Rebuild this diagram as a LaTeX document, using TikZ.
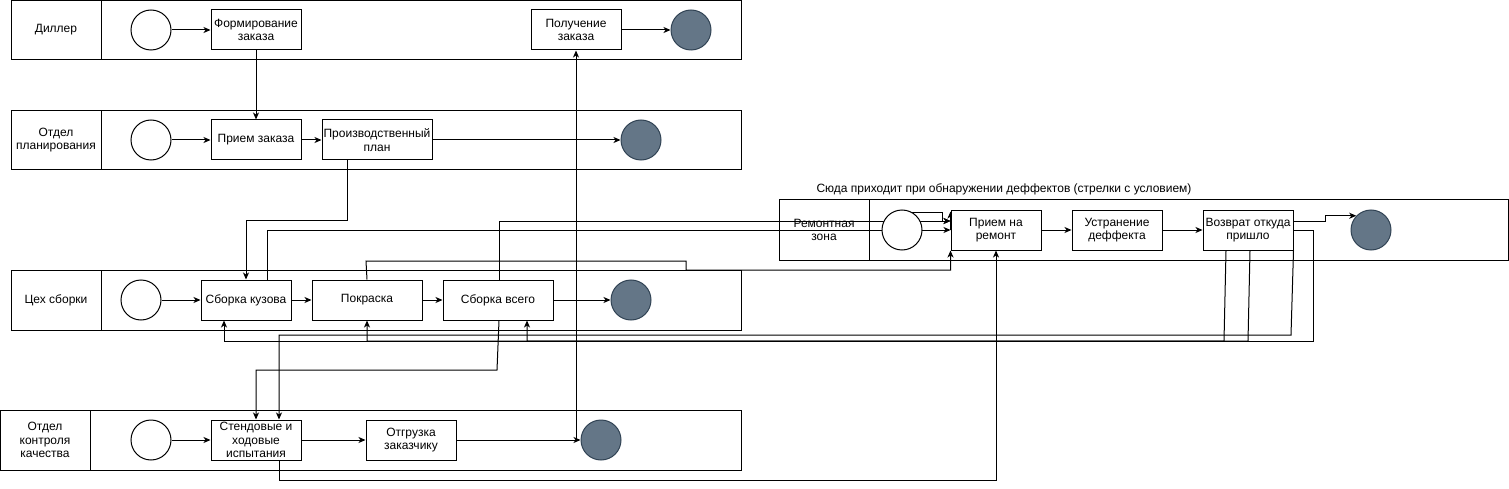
\documentclass[tikz,border=0pt]{standalone}
\usepackage{fontspec}
\setmainfont{Liberation Sans}
\usetikzlibrary{positioning, arrows.meta, backgrounds}

\definecolor{endfill}{HTML}{647687}
\definecolor{endline}{HTML}{314354}

\tikzset{
    txt/.style={font=\fontsize{12}{13.5}\selectfont, align=center},
    box/.style={txt, draw=black, fill=white, line width=1pt, minimum width=90pt,
                minimum height=40pt, inner sep=1pt},
    widebox/.style={box, minimum width=110pt},
    startev/.style={circle, draw=black, fill=white, line width=1pt, minimum size=40pt, inner sep=0pt},
    endev/.style={circle, draw=endline, fill=endfill, line width=1pt, minimum size=40pt, inner sep=0pt},
    lane/.style={draw=black, line width=1pt},
    flow/.style={draw=black, line width=1pt, -{Stealth[length=7pt, width=6pt, inset=2pt]}}
}

\begin{document}
\begin{tikzpicture}[x=1pt, y=-1pt]
    \useasboundingbox (0,0) rectangle (1509,489);

    % lanes
    \draw[lane] (11,1) rectangle (741,60);       \draw[lane] (101,1) -- (101,60);
    \draw[lane] (11,111) rectangle (741,170);    \draw[lane] (101,111) -- (101,170);
    \draw[lane] (11,270) rectangle (741,330);    \draw[lane] (101,270) -- (101,330);
    \draw[lane] (0.5,410) rectangle (741,470);   \draw[lane] (90,410) -- (90,470);
    \draw[lane] (779,200) rectangle (1508.5,260); \draw[lane] (869,200) -- (869,260);

    \node[txt] (lbl_diller) at (56,30) {Диллер};
    \node[txt] (lbl_plan) at (56,140) {Отдел\\планирования};
    \node[txt] (lbl_ceh) at (56,300) {Цех сборки};
    \node[txt] (lbl_otk) at (45,440) {Отдел\\контроля\\качества};
    \node[txt] (lbl_remont) at (824,230) {Ремонтная\\зона};
    \node[txt] (title) at (1004,189) {Сюда приходит при обнаружении деффектов (стрелки с условием)};

    % Диллер
    \node[startev] (s1) at (151,30) {};
    \node[box] (formirovanie) at (256,30) {Формирование\\заказа};
    \node[box] (poluchenie) at (576,30) {Получение\\заказа};
    \node[endev] (e1) at (691,30) {};

    % Отдел планирования
    \node[startev] (s2) at (151,140) {};
    \node[box] (priem_zakaza) at (256,140) {Прием заказа};
    \node[widebox, right=20pt of priem_zakaza] (plan) {Производственный\\план};
    \node[endev] (e2) at (641,140) {};

    % Цех сборки
    \node[startev] (s3) at (141,300) {};
    \node[box] (sborka_kuzova) at (246,300) {Сборка кузова};
    \node[widebox, right=20pt of sborka_kuzova] (pokraska) {Покраска};
    \node[widebox, right=20pt of pokraska] (sborka_vsego) {Сборка всего};
    \node[endev] (e3) at (631,300) {};

    % Отдел контроля качества
    \node[startev] (s4) at (151,440) {};
    \node[box] (stendovye) at (256,440) {Стендовые и\\ходовые\\испытания};
    \node[box] (otgruzka) at (411,440) {Отгрузка\\заказчику};
    \node[endev] (e4) at (601,440) {};

    % Ремонтная зона
    \node[startev] (s5) at (902,230) {};
    \node[box] (priem_remont) at (996,230) {Прием на\\ремонт};
    \node[box, right=30pt of priem_remont] (ustranenie) {Устранение\\деффекта};
    \node[box, right=40pt of ustranenie] (vozvrat) {Возврат откуда\\пришло};
    \node[endev] (e5) at (1371,230) {};

    \begin{scope}[on background layer]
        \draw[flow] (s1) -- (formirovanie);
        \draw[flow] (formirovanie) -- (priem_zakaza);
        \draw[flow] (poluchenie) -- (e1);

        \draw[flow] (s2) -- (priem_zakaza);
        \draw[flow] (priem_zakaza) -- (plan);
        \draw[flow] (plan) -- (e2);
        \draw[flow] (plan.south -| 347,0) -- (347,220) -| (sborka_kuzova.north);

        \draw[flow] (s3) -- (sborka_kuzova);
        \draw[flow] (sborka_kuzova) -- (pokraska);
        \draw[flow] (pokraska) -- (sborka_vsego);
        \draw[flow] (sborka_vsego) -- (e3);
        \draw[flow] ([xshift=21pt]sborka_kuzova.north) |- (priem_remont.west);
        \draw[flow] ([xshift=1pt]sborka_vsego.north) |- ([yshift=9pt]priem_remont.west);
        \draw[flow] (pokraska.north) -- (366,261) -- (686,261) -- (686,270) -| (priem_remont.south west);
        \draw[flow] ([xshift=1pt]sborka_vsego.south) -- (497,370) -| (stendovye.north);

        \draw[flow] (s4) -- (stendovye);
        \draw[flow] (stendovye) -- (otgruzka);
        \draw[flow] (otgruzka) -- (e4);
        \draw[flow] (otgruzka.east) -| (poluchenie.south);
        \draw[flow] ([xshift=23pt]stendovye.south) -- ++(0,20) -| (priem_remont.south);

        \draw[flow] (s5.60) -| (942,221) -- ([yshift=9pt]priem_remont.west);
        \draw[flow] (priem_remont.west) -- ([yshift=-2pt]priem_remont.north west);
        \draw[flow] (priem_remont) -- (ustranenie);
        \draw[flow] (ustranenie) -- (vozvrat);
        \draw[flow] ([yshift=9pt]vozvrat.east) -- ++(32,0) |- (e5.136);

        % возврат
        \draw[flow] (vozvrat.east) -| (1313,341) -| ([xshift=-22pt]sborka_kuzova.south);
        \draw[flow] ([xshift=-22pt]vozvrat.south) -- (1224,341) -| (pokraska.south);
        \draw[flow] ([xshift=2pt]vozvrat.south) -- (1248,341) -| ([xshift=29pt]sborka_vsego.south);
        \draw[flow] (vozvrat.south east) -- (1291,335) -| ([xshift=23pt]stendovye.north);
    \end{scope}
\end{tikzpicture}
\end{document}
